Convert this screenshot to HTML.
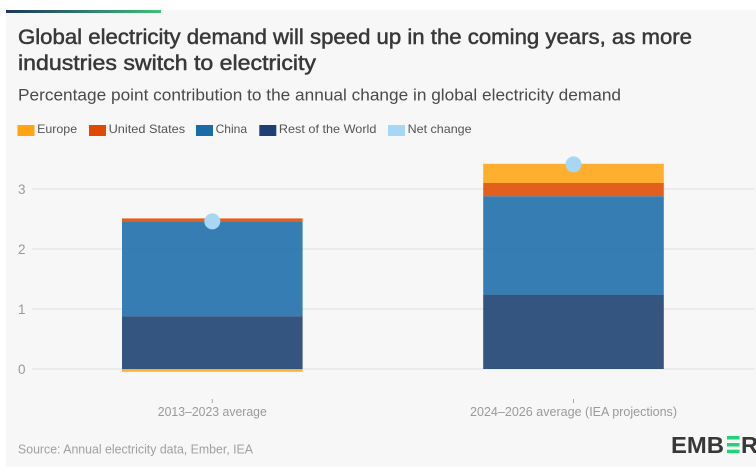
<!DOCTYPE html>
<html>
<head>
<meta charset="utf-8">
<style>
html,body{margin:0;padding:0;background:#fff;width:756px;height:475px;overflow:hidden}
svg{display:block;font-family:"Liberation Sans",sans-serif}
</style>
</head>
<body>
<svg id="chart" width="756" height="475" viewBox="0 0 756 475">
  <defs>
    <linearGradient id="topGrad" x1="0" x2="1" y1="0" y2="0">
      <stop offset="0" stop-color="#1f3560"/>
      <stop offset="1" stop-color="#3fc078"/>
    </linearGradient>
  </defs>
  <rect x="6" y="10" width="750" height="457" fill="#f7f7f7"/>
  <rect x="6" y="10" width="155" height="3" fill="url(#topGrad)"/>
  <text x="18" y="44" font-size="21" fill="#383838" stroke="#383838" stroke-width="0.5" textLength="674" lengthAdjust="spacingAndGlyphs">Global electricity demand will speed up in the coming years, as more</text>
  <text x="18" y="70" font-size="21" fill="#383838" stroke="#383838" stroke-width="0.5" textLength="298" lengthAdjust="spacingAndGlyphs">industries switch to electricity</text>
  <text x="18" y="100.5" font-size="16.5" fill="#4a4a4a" textLength="603" lengthAdjust="spacingAndGlyphs">Percentage point contribution to the annual change in global electricity demand</text>
  <g id="legend"></g>
  <g id="grid"></g>
  <g id="bars"></g>
  <g id="xaxis"></g>
  <g id="net"></g>
  <text x="18" y="453.5" font-size="12.5" fill="#a0a0a0" textLength="235" lengthAdjust="spacingAndGlyphs">Source: Annual electricity data, Ember, IEA</text>
  <g>
    <text x="671" y="453" font-size="23.5" font-weight="bold" fill="#383838" textLength="53" lengthAdjust="spacingAndGlyphs">EMB</text>
    <rect x="727" y="436" width="12.5" height="3.5" fill="#1fd475"/>
    <rect x="727" y="443" width="12.5" height="3.5" fill="#1fd475"/>
    <rect x="727" y="449.7" width="12.5" height="3.5" fill="#1fd475"/>
    <text x="741" y="453" font-size="23.5" font-weight="bold" fill="#383838">R</text>
  </g>
</svg>
<script>
const categories = ['2013–2023 average', '2024–2026 average (IEA projections)'];
const seriesNames = ['Rest of the World', 'China', 'United States', 'Europe'];
const restOfWorld = [0.88, 1.24];
const china = [1.57, 1.64];
const unitedStates = [0.06, 0.22];
const europe = [-0.045, 0.32];
const netChange = [2.46, 3.41];
const yTicks = [0, 1, 2, 3];
const legendLabels = ['Europe', 'United States', 'China', 'Rest of the World', 'Net change'];

const NS = 'http://www.w3.org/2000/svg';
const colors = {'Europe':'#ffa514','United States':'#e04a00','China':'#1a6ca8','Rest of the World':'#193f6e','Net change':'#a6d7f5'};
const seriesValues = [restOfWorld, china, unitedStates, europe];
function yScale(v){ return 369 - v * 60; }
function xCenter(i){ return 212.3 + i * 361.2; }
const barWidth = 180.6;
function make(tag, attrs, parent){
  const el = document.createElementNS(NS, tag);
  for (const k in attrs) el.setAttribute(k, attrs[k]);
  parent.appendChild(el);
  return el;
}
const grid = document.getElementById('grid');
yTicks.forEach(function(t){
  const line = make('line', {x1:32, x2:754.5, y1:yScale(t), y2:yScale(t), stroke:'#e4e4e4', 'stroke-width':1.2}, grid);
  
  
  const label = make('text', {x:25.5, y:yScale(t)+5, 'text-anchor':'end', 'font-size':13.5, fill:'#9a9a9a'}, grid);
  label.textContent = t;
  
  
});
const barsG = document.getElementById('bars');
categories.forEach(function(c, i){
  let pos = 0, neg = 0;
  seriesValues.forEach(function(vals, s){
    const v = vals[i];
    let a, b;
    if (v >= 0) { a = pos; b = pos + v; pos = b; }
    else { a = neg + v; b = neg; neg = a; }
    const r = make('rect', {x:xCenter(i)-barWidth/2, width:barWidth, y:yScale(b), height:Math.max(yScale(a)-yScale(b),0), fill:colors[seriesNames[s]], 'fill-opacity':0.88}, barsG);
    
    
  });
});
const xaxis = document.getElementById('xaxis');
const xLabelWidths = [109, 207];
categories.forEach(function(c, i){
  const tick = make('line', {x1:xCenter(i), x2:xCenter(i), y1:399, y2:403, stroke:'#aaa', 'stroke-width':1}, xaxis);
  
  
  const label = make('text', {x:xCenter(i), y:416, 'text-anchor':'middle', 'font-size':12.5, fill:'#9a9a9a', textLength:xLabelWidths[i], lengthAdjust:'spacingAndGlyphs'}, xaxis);
  label.textContent = c;
  
  
});
const netG = document.getElementById('net');
netChange.forEach(function(v, i){
  const p = make('circle', {cx:xCenter(i), cy:yScale(v), r:8, fill:colors['Net change']}, netG);
  
  
});
const legend = document.getElementById('legend');
const legendX = [17.5, 89, 196, 259.3, 388];
const legendTextWidths = [40, 76.5, 31.5, 97.5, 64];
legendLabels.forEach(function(n, i){
  const s = make('rect', {x:legendX[i], y:125, width:17, height:11, fill:colors[n] === '#193f6e' ? '#1f3f74' : colors[n]}, legend);
  
  
  const t = make('text', {x:legendX[i]+19.6, y:133.2, 'font-size':12, fill:'#555', textLength:legendTextWidths[i], lengthAdjust:'spacingAndGlyphs'}, legend);
  t.textContent = n;
  
  
});
</script>
</body>
</html>
